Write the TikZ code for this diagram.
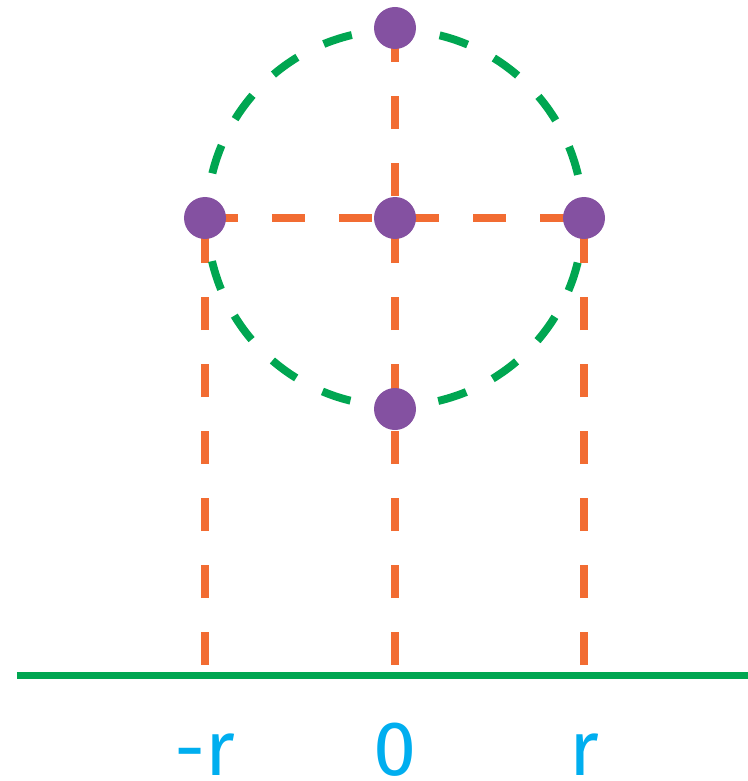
\documentclass[tikz,border=0pt]{standalone}
\usepackage{fontspec}
\setsansfont{Fira Sans}
\usepackage{tikz}
\usetikzlibrary{positioning,backgrounds}
\definecolor{ptPurple}{HTML}{8451A1}
\definecolor{lnOrange}{HTML}{F26C32}
\definecolor{lnGreen}{HTML}{00A651}
\definecolor{lbBlue}{HTML}{00AEEF}

\begin{document}
\begin{tikzpicture}[
        dot/.style={circle, fill=ptPurple, inner sep=0pt, minimum size=0.84cm},
        guide/.style={lnOrange, line width=4.5pt, dash pattern=on 0.66cm off 0.68cm},
        rim/.style={lnGreen, line width=4.5pt, dash pattern=on 0.5906cm off 0.5906cm},
        axlabel/.style={font=\sffamily\fontsize{44}{44}\selectfont, text=lbBlue, anchor=base, inner sep=0pt}
    ]
        \def\r{3.8}
        \def\R{3.76}
        \useasboundingbox (-7.9,-11.26) rectangle (7.06,4.36);

        % points on the circle
        \node[dot] (pc) at (0,0) {};
        \node[dot] (ptop) at (0,\r) {};
        \node[dot] (pbot) at (0,-\r-0.02) {};
        \node[dot] (pleft) at (-\r,0) {};
        \node[dot] (pright) at (3.78,0) {};

        % axis
        \coordinate (axl) at (-7.56,-9.15);
        \coordinate (axr) at (7.06,-9.15);
        \coordinate (fl) at (-\r,-8.94);
        \coordinate (f0) at (0,-8.94);
        \coordinate (fr) at (3.78,-8.94);
        \draw[lnGreen, line width=4.3pt] (axl) -- (axr);

        \node[axlabel] (lbl) at (-\r,-11.14) {-r};
        \node[axlabel] (lb0) at (0,-11.14) {0};
        \node[axlabel] (lbr) at (3.78,-11.14) {r};

        \begin{scope}[on background layer]
            \draw[guide] (fl) -- (pleft.center);
            \draw[guide] (f0) -- (ptop.center);
            \draw[guide] (fr) -- (pright.center);
            \draw[guide] (pleft.center) -- (pright.center);
            \draw[rim] (pc.center) ++(193.3:\R) arc[start angle=193.3, delta angle=360, radius=\R];
        \end{scope}
    \end{tikzpicture}
\end{document}
